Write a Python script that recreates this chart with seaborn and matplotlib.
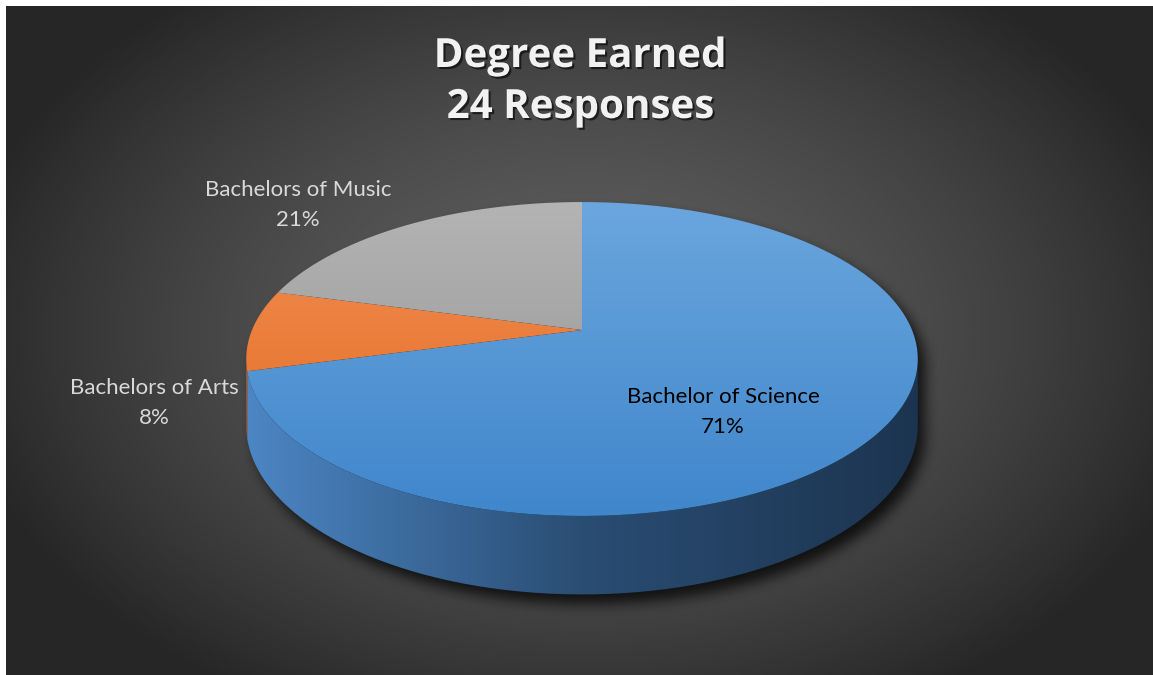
import numpy as np
import matplotlib
matplotlib.use("Agg")
import matplotlib.pyplot as plt
import matplotlib.patheffects as pe
from matplotlib.path import Path
from matplotlib.patches import PathPatch
import seaborn as sns

# data
degrees = ["Bachelor of Science", "Bachelors of Arts", "Bachelors of Music"]
counts = [17, 2, 5]
title_text = "Degree Earned\n24 Responses"

# colours (top face light->dark, side light->dark)
top_colors = [["#6BA6DE", "#3F86CB"], ["#F19057", "#E3671B"], ["#B4B4B4", "#909090"]]
side_colors = [["#4C86C4", "#2A4D73", "#1C3450"], ["#C45A18", "#A04810"], ["#7A7A7A", "#5A5A5A"]]
label_colors = ["black", "#D9D9D9", "#D9D9D9"]

sns.set_theme(style="dark")
plt.rcParams["font.family"] = ["Lato", "DejaVu Sans"]

W, H = 1153, 675
fig = plt.figure(figsize=(W / 100, H / 100), dpi=100, facecolor="white")
ax = fig.add_axes([0, 0, 1, 1])
ax.set_xlim(0, W)
ax.set_ylim(H, 0)
ax.axis("off")

# radial dark background
gx, gy = np.meshgrid(np.arange(6, W), np.arange(6, H))
r = np.clip(np.sqrt(((gx - 585) / 640.0) ** 2 + ((gy - 330) / 430.0) ** 2), 0, 1) ** 1.6
bg_cmap = sns.blend_palette(["#5E5E5E", "#262626"], as_cmap=True)
ax.imshow(r, extent=(6, W, H, 6), cmap=bg_cmap, vmin=0, vmax=1, zorder=0, aspect="auto")

# perspective pie geometry (pixels)
CX, CY = 582, 330
A, B, P = 330, 151.6, 0.1847
DEPTH = 64


def proj(theta, depth=0.0):
    u = np.sin(theta)
    v = -np.cos(theta)
    s = 1.0 / (1.0 - P * v)
    return CX + A * u * s, CY + (B * v + depth) * s


fracs = np.array(counts) / np.sum(counts)
edges = np.concatenate([[0], np.cumsum(fracs)]) * 2 * np.pi
vis_lo = np.pi / 2 + np.arcsin(P)
vis_hi = 3 * np.pi / 2 - np.arcsin(P)

# shadow of the whole pie
t_all = np.linspace(0, 2 * np.pi, 400)
tx, ty = proj(t_all)
t_front = np.linspace(vis_lo, vis_hi, 200)
fx, fy = proj(t_front, DEPTH)
bx, by = proj(t_front[::-1])
ell = Path(np.column_stack([tx, ty]))
band = Path(np.column_stack([np.concatenate([fx, bx]), np.concatenate([fy, by])]))
pts = np.column_stack([gx.ravel() - 7, gy.ravel() - 9])
mask = (ell.contains_points(pts) | band.contains_points(pts)).reshape(gx.shape).astype(float)
k = np.ones(15) / 15
for _ in range(2):
    mask = np.apply_along_axis(lambda m: np.convolve(m, k, mode="same"), 0, mask)
    mask = np.apply_along_axis(lambda m: np.convolve(m, k, mode="same"), 1, mask)
shadow = np.zeros(mask.shape + (4,))
shadow[..., 3] = mask * 0.75
ax.imshow(shadow, extent=(6, W, H, 6), zorder=1, aspect="auto")

# side walls
xs = np.linspace(0, 1, 300)[None, :].repeat(10, axis=0)
for i in range(len(counts)):
    lo, hi = max(edges[i], vis_lo), min(edges[i + 1], vis_hi)
    if hi <= lo:
        continue
    t = np.linspace(lo, hi, 150)
    ux, uy = proj(t)
    dx, dy = proj(t[::-1], DEPTH)
    patch = PathPatch(Path(np.column_stack([np.concatenate([ux, dx]), np.concatenate([uy, dy])])),
                      facecolor="none", edgecolor="none", zorder=2)
    ax.add_patch(patch)
    cmap = sns.blend_palette(side_colors[i], as_cmap=True)
    im = ax.imshow(xs, extent=(245, 920, 600, 300), cmap=cmap, zorder=2, aspect="auto")
    im.set_clip_path(patch)

# top faces
ys = np.linspace(0, 1, 300)[:, None].repeat(10, axis=1)
for i in range(len(counts)):
    t = np.linspace(edges[i], edges[i + 1], 200)
    ax_, ay_ = proj(t)
    verts = np.column_stack([np.concatenate([[CX], ax_, [CX]]), np.concatenate([[CY], ay_, [CY]])])
    patch = PathPatch(Path(verts), facecolor="none", edgecolor="none", zorder=3)
    ax.add_patch(patch)
    cmap = sns.blend_palette(top_colors[i], as_cmap=True)
    im = ax.imshow(ys, extent=(240, 925, 520, 200), cmap=cmap, zorder=3, aspect="auto")
    im.set_clip_path(patch)

# labels
pcts = [f"{round(f * 100)}%" for f in fracs]
label_pos = [(723, 412), (154, 403), (298, 205)]
for i, name in enumerate(degrees):
    x, y = label_pos[i]
    ax.text(x, y, f"{name}\n{pcts[i]}", ha="center", va="center", fontsize=16,
            color=label_colors[i], linespacing=1.6, zorder=5)

ax.text(580, 82, title_text, ha="center", va="center", fontsize=29, fontweight="bold",
        family=["Open Sans", "DejaVu Sans"], color="#F2F2F2", linespacing=1.4, zorder=5,
        path_effects=[pe.withSimplePatchShadow(offset=(1.5, -1.5), shadow_rgbFace="black", alpha=0.6)])

fig.savefig("out.png", dpi=100, facecolor="white")
